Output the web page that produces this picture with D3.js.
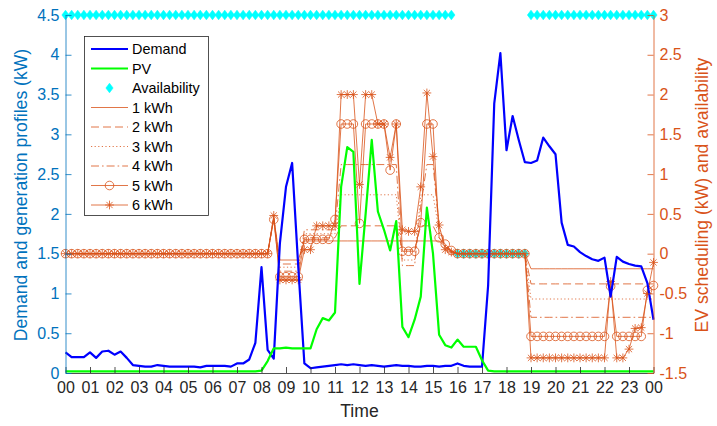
<!DOCTYPE html>
<html><head><meta charset="utf-8">
<script src="https://cdn.jsdelivr.net/npm/d3@7"></script>
<style>
body{margin:0;background:#fff}
svg{display:block}
text{font-family:"Liberation Sans",Arial,Helvetica,sans-serif}
</style>
</head><body>
<svg id="chart" width="717" height="426"></svg>
<script>
// ---------- data ----------
const hourLabels = ["00","01","02","03","04","05","06","07","08","09","10","11","12","13","14","15","16","17","18","19","20","21","22","23","00"];
const hourTicks = [0,1,2,3,4,5,6,7,8,9,10,11,12,13,14,15,16,17,18,19,20,21,22,23,24];
const leftTicks = [0,0.5,1,1.5,2,2.5,3,3.5,4,4.5];
const rightTicks = [-1.5,-1,-0.5,0,0.5,1,1.5,2,2.5,3];
const timeHours = d3.range(97).map(j => j * 0.25); // 15-min steps, 00:00 .. 24:00

const demand = [0.26,0.20,0.20,0.20,0.26,0.19,0.27,0.28,0.23,0.27,
 0.19,0.10,0.09,0.08,0.08,0.10,0.09,0.08,0.08,0.08,
 0.08,0.08,0.07,0.09,0.09,0.09,0.09,0.08,0.12,0.12,
 0.17,0.38,1.33,0.29,0.18,1.63,2.34,2.64,1.34,0.12,
 0.06,0.07,0.08,0.09,0.10,0.11,0.10,0.11,0.10,0.09,
 0.10,0.09,0.08,0.09,0.10,0.09,0.09,0.08,0.08,0.09,
 0.09,0.08,0.09,0.09,0.12,0.09,0.08,0.08,0.08,1.10,
 3.39,4.02,2.80,3.23,2.93,2.65,2.64,2.67,2.96,2.85,
 2.75,1.89,1.61,1.59,1.52,1.47,1.43,1.41,1.45,0.96,
 1.46,1.40,1.37,1.35,1.34,1.13,0.67];

const pv = [0.02,0.02,0.02,0.02,0.02,0.02,0.02,0.02,0.02,0.02,
 0.02,0.02,0.02,0.02,0.02,0.02,0.02,0.02,0.02,0.02,
 0.02,0.02,0.02,0.02,0.02,0.02,0.02,0.02,0.02,0.02,
 0.02,0.02,0.03,0.15,0.31,0.31,0.32,0.31,0.31,0.31,
 0.31,0.55,0.69,0.66,0.76,2.34,2.84,2.78,1.12,2.00,
 2.93,2.03,1.80,1.54,1.91,0.58,0.45,0.67,0.96,2.08,
 1.50,0.48,0.35,0.32,0.42,0.33,0.33,0.33,0.16,0.03,
 0.02,0.02,0.02,0.02,0.02,0.02,0.02,0.02,0.02,0.02,
 0.02,0.02,0.02,0.02,0.02,0.02,0.02,0.02,0.02,0.02,
 0.02,0.02,0.02,0.02,0.02,0.02,0.02];

const availability = [3,3,3,3,3,3,3,3,3,3,
 3,3,3,3,3,3,3,3,3,3,
 3,3,3,3,3,3,3,3,3,3,
 3,3,3,3,3,3,3,3,3,3,
 3,3,3,3,3,3,3,3,3,3,
 3,3,3,3,3,3,3,3,3,3,
 3,3,3,3,0,0,0,0,0,0,
 0,0,0,0,0,0,3,3,3,3,
 3,3,3,3,3,3,3,3,3,3,
 3,3,3,3,3,3,3];

const ev1kWh = [0,0,0,0,0,0,0,0,0,0,
 0,0,0,0,0,0,0,0,0,0,
 0,0,0,0,0,0,0,0,0,0,
 0,0,0,0,0.45,-0.08,-0.08,-0.08,-0.08,0.16,
 0.16,0.16,0.16,0.16,0.16,0.16,0.16,0.16,0.16,0.16,
 0.16,0.16,0.16,0.16,0.16,0.16,0.16,0.16,0.16,0.16,
 0.16,0.16,0.09,0.03,0,0,0,0,0,0,
 0,0,0,0,0,0,-0.19,-0.19,-0.19,-0.19,
 -0.19,-0.19,-0.19,-0.19,-0.19,-0.19,-0.19,-0.19,-0.19,-0.19,
 -0.19,-0.19,-0.19,-0.19,-0.19,-0.19,-0.19];

const ev2kWh = [0,0,0,0,0,0,0,0,0,0,
 0,0,0,0,0,0,0,0,0,0,
 0,0,0,0,0,0,0,0,0,0,
 0,0,0,0,0.45,-0.13,-0.13,-0.13,-0.13,0.20,
 0.20,0.20,0.20,0.20,0.20,0.35,0.35,0.35,0.35,0.35,
 0.35,0.35,0.35,0.35,0.35,0.05,0.05,0.05,0.35,0.35,
 0.35,0.20,0.09,0.03,0,0,0,0,0,0,
 0,0,0,0,0,0,-0.38,-0.38,-0.38,-0.38,
 -0.38,-0.38,-0.38,-0.38,-0.38,-0.38,-0.38,-0.38,-0.38,-0.38,
 -0.38,-0.38,-0.38,-0.38,-0.38,-0.38,-0.38];

const ev3kWh = [0,0,0,0,0,0,0,0,0,0,
 0,0,0,0,0,0,0,0,0,0,
 0,0,0,0,0,0,0,0,0,0,
 0,0,0,0,0.45,-0.17,-0.17,-0.17,-0.17,0.25,
 0.25,0.25,0.25,0.25,0.25,0.74,0.74,0.74,0.74,0.74,
 0.74,0.74,0.74,0.74,0.74,-0.08,-0.08,-0.08,0.74,0.74,
 0.74,0.28,0.10,0.03,0,0,0,0,0,0,
 0,0,0,0,0,0,-0.57,-0.57,-0.57,-0.57,
 -0.57,-0.57,-0.57,-0.57,-0.57,-0.57,-0.57,-0.57,-0.57,-0.57,
 -0.57,-0.57,-0.57,-0.57,-0.57,-0.57,-0.57];

const ev4kWh = [0,0,0,0,0,0,0,0,0,0,
 0,0,0,0,0,0,0,0,0,0,
 0,0,0,0,0,0,0,0,0,0,
 0,0,0,0,0.45,-0.22,-0.22,-0.22,-0.22,0.30,
 0.30,0.30,0.30,0.30,0.30,1.12,1.12,1.12,1.12,1.12,
 1.12,1.12,1.12,1.12,1.12,-0.15,-0.15,-0.15,0.60,1.12,
 1.12,0.32,0.10,0.03,0,0,0,0,0,0,
 0,0,0,0,0,0,-0.80,-0.80,-0.80,-0.80,
 -0.80,-0.80,-0.80,-0.80,-0.80,-0.80,-0.80,-0.80,-0.80,-0.80,
 -0.80,-0.80,-0.80,-0.80,-0.80,-0.80,-0.80];

const ev5kWh = [0,0,0,0,0,0,0,0,0,0,
 0,0,0,0,0,0,0,0,0,0,
 0,0,0,0,0,0,0,0,0,0,
 0,0,0,0,0.43,-0.29,-0.29,-0.29,-0.29,0.18,
 0.18,0.18,0.18,0.18,0.43,1.63,1.63,1.63,0.38,1.63,
 1.63,1.63,1.63,1.05,1.63,0.03,0.03,0.03,0.39,1.63,
 1.63,0.20,0.12,0.04,0,0,0,0,0,0,
 0,0,0,0,0,0,-1.04,-1.04,-1.04,-1.04,
 -1.04,-1.04,-1.04,-1.04,-1.04,-1.04,-1.04,-1.04,-1.04,-0.41,
 -1.04,-1.04,-1.04,-1.04,-1.04,-0.46,-0.40];

const ev6kWh = [0,0,0,0,0,0,0,0,0,0,
 0,0,0,0,0,0,0,0,0,0,
 0,0,0,0,0,0,0,0,0,0,
 0,0,0,0,0.48,-0.33,-0.33,-0.33,-0.33,0.05,
 0.05,0.35,0.35,0.35,0.35,2.00,2.00,2.00,0.87,2.00,
 2.00,1.63,1.63,1.21,1.63,0.30,0.28,0.28,0.84,2.02,
 1.22,0.36,0.05,0.02,0,0,0,0,0,0,
 0,0,0,0,0,0,-1.31,-1.31,-1.31,-1.31,
 -1.31,-1.31,-1.31,-1.31,-1.31,-1.31,-1.31,-1.31,-1.31,-0.35,
 -1.31,-1.31,-1.20,-0.94,-0.93,-0.50,-0.11];

const legendNames = ["Demand","PV","Availability","1 kWh","2 kWh","3 kWh","4 kWh","5 kWh","6 kWh"];

// ---------- styles ----------
const BLUE_AX = "#0072BD", ORANGE = "#D95319", DARK = "#262626";
const evSeries = [
  {v: ev1kWh, dash: null, marker: null},
  {v: ev2kWh, dash: "8,4", marker: null},
  {v: ev3kWh, dash: "1.2,2.4", marker: null},
  {v: ev4kWh, dash: "8,3,1.6,3", marker: null},
  {v: ev5kWh, dash: null, marker: "circle"},
  {v: ev6kWh, dash: null, marker: "asterisk"}
];

// ---------- scales ----------
const svg = d3.select("#chart");
const x = d3.scaleLinear().domain([0, 24]).range([65.5, 653.5]);
const yL = d3.scaleLinear().domain([0, 4.5]).range([373, 15]);
const yR = d3.scaleLinear().domain([-1.5, 3]).range([373, 15]);

function asteriskPath(s) {
  const a = s * 0.7071;
  return `M${-s},0H${s}M0,${-s}V${s}M${-a},${-a}L${a},${a}M${-a},${a}L${a},${-a}`;
}
function diamondPath(w, h) { return `M0,${-h}L${w},0L0,${h}L${-w},0Z`; }

function drawMarker(g, type, cx, cy, fill) {
  if (type === "circle") {
    g.append("circle").attr("cx", cx).attr("cy", cy).attr("r", 4.3)
      .attr("fill", "none").attr("stroke", ORANGE).attr("stroke-width", 0.8);
  } else if (type === "asterisk") {
    g.append("path").attr("transform", `translate(${cx},${cy})`).attr("d", asteriskPath(4.4))
      .attr("fill", "none").attr("stroke", ORANGE).attr("stroke-width", 0.8);
  } else if (type === "diamond") {
    g.append("path").attr("transform", `translate(${cx},${cy})`).attr("d", diamondPath(3.6, 4.8))
      .attr("fill", "#00FFFF").attr("stroke", "#00FFFF").attr("stroke-width", 0.6);
  }
}

// ---------- right-axis series (drawn first) ----------
const gR = svg.append("g");
timeHours.forEach((t, i) => drawMarker(gR, "diamond", x(t), yR(availability[i])));

const lineR = d3.line().x((d, i) => x(timeHours[i])).y(d => yR(d));
evSeries.forEach(s => {
  gR.append("path").datum(s.v).attr("d", lineR)
    .attr("fill", "none").attr("stroke", ORANGE).attr("stroke-width", 0.8)
    .attr("stroke-dasharray", s.dash);
  if (s.marker) s.v.forEach((d, i) => drawMarker(gR, s.marker, x(timeHours[i]), yR(d)));
});

// ---------- left-axis series ----------
const lineL = d3.line().x((d, i) => x(timeHours[i])).y(d => yL(d));
svg.append("path").datum(demand).attr("d", lineL)
  .attr("fill", "none").attr("stroke", "#0000FF").attr("stroke-width", 2.2).attr("stroke-linejoin", "round");
svg.append("path").datum(pv).attr("d", lineL)
  .attr("fill", "none").attr("stroke", "#00FF00").attr("stroke-width", 2.2).attr("stroke-linejoin", "round");

// ---------- axes ----------
function styleAxis(g, color) {
  g.attr("font-size", null).attr("font-family", null);
  g.select(".domain").attr("stroke", color).attr("stroke-width", 0.8);
  g.selectAll(".tick line").attr("stroke", color).attr("stroke-width", 0.8);
  g.selectAll(".tick text").attr("fill", color).style("font-size", "16px");
}
const gx = svg.append("g").attr("transform", "translate(0,373)")
  .call(d3.axisBottom(x).tickValues(hourTicks).tickFormat((d, i) => hourLabels[i])
    .tickSizeInner(-6).tickSizeOuter(0).tickPadding(9));
styleAxis(gx, DARK);

const gl = svg.append("g").attr("transform", "translate(65.5,0)")
  .call(d3.axisLeft(yL).tickValues(leftTicks).tickFormat(d => String(d))
    .tickSizeInner(-6).tickSizeOuter(0).tickPadding(6));
styleAxis(gl, BLUE_AX);

const gr = svg.append("g").attr("transform", "translate(653.5,0)")
  .call(d3.axisRight(yR).tickValues(rightTicks).tickFormat(d => String(d))
    .tickSizeInner(-6).tickSizeOuter(0).tickPadding(6));
styleAxis(gr, ORANGE);

// axis titles
svg.append("text").attr("transform", "translate(21,195) rotate(-90)").attr("dy", "0.35em")
  .attr("text-anchor", "middle").attr("fill", BLUE_AX).style("font-size", "17.6px")
  .text("Demand and generation profiles (kW)");
svg.append("text").attr("transform", "translate(702,195) rotate(-90)").attr("dy", "0.35em")
  .attr("text-anchor", "middle").attr("fill", ORANGE).style("font-size", "17.6px")
  .text("EV scheduling (kW) and availability");
svg.append("text").attr("x", 359.5).attr("y", 417).attr("text-anchor", "middle")
  .attr("fill", DARK).style("font-size", "17.6px").text("Time");

// ---------- legend ----------
const lg = svg.append("g");
const legTop = 49, legStep = 19.5;
lg.append("rect").attr("x", 84.5).attr("y", 36.5).attr("width", 124).attr("height", 179)
  .attr("fill", "#fff").attr("stroke", DARK).attr("stroke-width", 0.8);
const legStyles = [
  {color: "#0000FF", w: 2.2, dash: null, marker: null, line: true},
  {color: "#00FF00", w: 2.2, dash: null, marker: null, line: true},
  {color: "#00FFFF", w: 0, dash: null, marker: "diamond", line: false},
  {color: ORANGE, w: 0.8, dash: evSeries[0].dash, marker: null, line: true},
  {color: ORANGE, w: 0.8, dash: evSeries[1].dash, marker: null, line: true},
  {color: ORANGE, w: 0.8, dash: evSeries[2].dash, marker: null, line: true},
  {color: ORANGE, w: 0.8, dash: evSeries[3].dash, marker: null, line: true},
  {color: ORANGE, w: 0.8, dash: null, marker: "circle", line: true},
  {color: ORANGE, w: 0.8, dash: null, marker: "asterisk", line: true}
];
legendNames.forEach((name, i) => {
  const yy = legTop + i * legStep, st = legStyles[i];
  if (st.line) lg.append("line").attr("x1", 91).attr("x2", 128).attr("y1", yy).attr("y2", yy)
    .attr("stroke", st.color).attr("stroke-width", st.w).attr("stroke-dasharray", st.dash);
  if (st.marker) drawMarker(lg, st.marker, 109.5, yy);
  lg.append("text").attr("x", 132).attr("y", yy).attr("dy", "0.35em")
    .attr("fill", "#000").style("font-size", "14.4px").text(name);
});
</script>
</body></html>
